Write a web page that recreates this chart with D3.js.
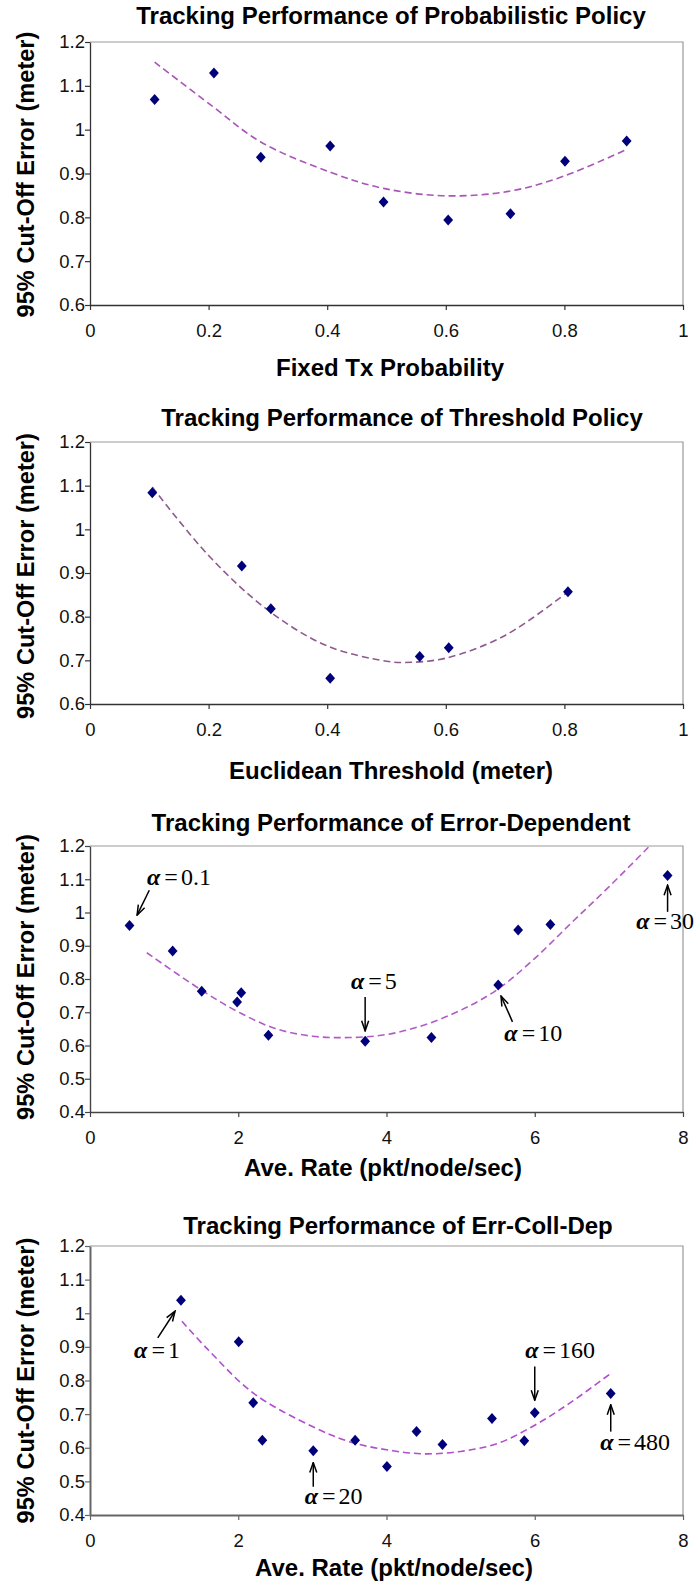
<!DOCTYPE html>
<html>
<head>
<meta charset="utf-8">
<script src="https://cdn.jsdelivr.net/npm/d3@7"></script>
<style>
  body { margin: 0; background: #fff; }
  svg { display: block; }
</style>
</head>
<body>
<svg id="chart"></svg>
<script>
const svgWidth = 696;
const svgHeight = 1585;
const plotLeft = 90, plotRight = 683;

// ---- data ----
const yLabel = "95% Cut-Off Error (meter)";

// Probabilistic policy
const probTitle = "Tracking Performance of Probabilistic Policy";
const probXLabel = "Fixed Tx Probability";
const probX = [0.109, 0.209, 0.288, 0.405, 0.495, 0.604, 0.709, 0.801, 0.905];
const probY = [1.069, 1.129, 0.937, 0.963, 0.835, 0.794, 0.808, 0.928, 0.974];
const probTrendX = [0.109, 0.205, 0.288, 0.405, 0.495, 0.604, 0.709, 0.801, 0.905];
const probTrendY = [1.154, 1.055, 0.972, 0.903, 0.866, 0.849, 0.860, 0.895, 0.955];

// Threshold policy
const threshTitle = "Tracking Performance of Threshold Policy";
const threshXLabel = "Euclidean Threshold (meter)";
const threshX = [0.105, 0.256, 0.305, 0.405, 0.556, 0.605, 0.806];
const threshY = [1.084, 0.916, 0.818, 0.659, 0.709, 0.729, 0.857];
const threshTrendX = [0.105, 0.2, 0.3, 0.4, 0.5, 0.53, 0.6, 0.7, 0.806];
const threshTrendY = [1.097, 0.94, 0.815, 0.733, 0.698, 0.695, 0.705, 0.757, 0.857];

// Error-dependent
const errTitle = "Tracking Performance of Error-Dependent";
const rateXLabel = "Ave. Rate (pkt/node/sec)";
const errX = [0.533, 1.115, 1.507, 1.985, 2.040, 2.407, 3.712, 4.606, 5.507, 5.776, 6.211, 7.792];
const errY = [0.961, 0.884, 0.763, 0.731, 0.759, 0.631, 0.613, 0.624, 0.782, 0.947, 0.964, 1.111];
const errTrendX = [0.766, 1.5, 2, 2.5, 3, 3.5, 4, 4.5, 5, 5.5, 6, 6.5, 7, 7.55];
const errTrendY = [0.879, 0.767, 0.701, 0.651, 0.628, 0.624, 0.633, 0.661, 0.706, 0.769, 0.862, 0.97, 1.077, 1.2];
const errAlphas = ["0.1", "5", "10", "30"];

// Err-Coll-Dep
const collTitle = "Tracking Performance of Err-Coll-Dep";
const collX = [1.227, 2.006, 2.202, 2.325, 3.012, 3.577, 4.006, 4.405, 4.755, 5.423, 5.859, 6.0, 7.025];
const collY = [1.039, 0.915, 0.734, 0.622, 0.591, 0.622, 0.544, 0.648, 0.610, 0.687, 0.621, 0.704, 0.761];
const collTrendX = [1.24, 1.6, 2.2, 3, 3.5, 4, 4.5, 5, 5.5, 6, 6.5, 7.03];
const collTrendY = [0.976, 0.89, 0.763, 0.663, 0.618, 0.594, 0.582, 0.589, 0.613, 0.667, 0.737, 0.822];
const collAlphas = ["1", "20", "160", "480"];

// tick values
const probTicks = [0, 0.2, 0.4, 0.6, 0.8, 1];
const rateTicks = [0, 2, 4, 6, 8];
const errTicksHigh = [0.6, 0.7, 0.8, 0.9, 1, 1.1, 1.2];
const errTicksWide = [0.4, 0.5, 0.6, 0.7, 0.8, 0.9, 1, 1.1, 1.2];

// annotation placement (data units): text start, arrow tail -> head
const errNotePos = [
  { tx: 0.77, ty: 1.082, x1: 0.80, y1: 1.067, x2: 0.635, y2: 0.992 },
  { tx: 3.52, ty: 0.771, x1: 3.712, y1: 0.746, x2: 3.712, y2: 0.644 },
  { tx: 5.59, ty: 0.614, x1: 5.70, y1: 0.671, x2: 5.545, y2: 0.749 },
  { tx: 7.47, ty: 0.949, x1: 7.792, y1: 1.002, x2: 7.792, y2: 1.082 }
];
const collNotePos = [
  { tx: 0.595, ty: 0.867, x1: 0.914, y1: 0.927, x2: 1.147, y2: 1.006 },
  { tx: 2.896, ty: 0.433, x1: 3.012, y1: 0.484, x2: 3.012, y2: 0.556 },
  { tx: 5.871, ty: 0.867, x1: 6.0, y1: 0.842, x2: 6.0, y2: 0.741 },
  { tx: 6.883, ty: 0.592, x1: 7.025, y1: 0.648, x2: 7.025, y2: 0.728 }
];

const svg = d3.select("#chart")
    .attr("width", svgWidth)
    .attr("height", svgHeight);

const defs = svg.append("defs");
defs.append("marker")
    .attr("id", "arrowHead")
    .attr("viewBox", "0 0 12 10")
    .attr("refX", 11)
    .attr("refY", 5)
    .attr("markerWidth", 12)
    .attr("markerHeight", 10)
    .attr("markerUnits", "userSpaceOnUse")
    .attr("orient", "auto")
  .append("path")
    .attr("d", "M1,1.5L11,5L1,8.5")
    .attr("fill", "none")
    .attr("stroke", "#000")
    .attr("stroke-width", 1.5);

// diamond marker, a bit taller than wide
const diamond = {
  draw(context) {
    context.moveTo(0, -5.5);
    context.lineTo(4.9, 0);
    context.lineTo(0, 5.5);
    context.lineTo(-4.9, 0);
    context.closePath();
  }
};

const boldFont = "'Liberation Sans', Arial, sans-serif";
const fmt = d => String(+d.toFixed(1));

function drawPanel(p) {
  const x = d3.scaleLinear().domain(p.xDomain).range([plotLeft, plotRight]);
  const y = d3.scaleLinear().domain(p.yDomain).range([p.bottom, p.top]);
  const g = svg.append("g");

  // plot frame (top / right)
  g.append("path")
      .attr("d", `M${plotLeft},${p.top}H${plotRight}V${p.bottom}`)
      .attr("fill", "none")
      .attr("stroke", "#999")
      .attr("stroke-width", 1.2);

  // axes
  const xAxis = g.append("g")
      .attr("transform", `translate(0,${p.bottom})`)
      .call(d3.axisBottom(x).tickValues(p.xTicks).tickFormat(fmt).tickSize(5).tickSizeOuter(0).tickPadding(14));
  const yAxis = g.append("g")
      .attr("transform", `translate(${plotLeft},0)`)
      .call(d3.axisLeft(y).tickValues(p.yTicks).tickFormat(fmt).tickSize(5).tickSizeOuter(0).tickPadding(0));

  [xAxis, yAxis].forEach(a => {
    a.select(".domain").attr("stroke", p.axisColor).attr("stroke-width", p.axisWidth);
    a.selectAll(".tick line").attr("stroke", p.axisColor).attr("stroke-width", 1.2);
    a.selectAll(".tick text")
        .attr("fill", "#111")
        .style("font-family", "'Liberation Sans', Arial, sans-serif")
        .style("font-size", "18.5px");
  });

  // trend line
  g.append("path")
      .datum(d3.zip(p.trendX, p.trendY))
      .attr("d", d3.line().x(d => x(d[0])).y(d => y(d[1])).curve(d3.curveCatmullRom))
      .attr("fill", "none")
      .attr("stroke", p.trendColor)
      .attr("stroke-width", 1.6)
      .attr("stroke-dasharray", "7,4");

  // points
  g.selectAll(".pt")
      .data(d3.zip(p.xs, p.ys))
      .enter()
      .append("path")
      .attr("class", "pt")
      .attr("transform", d => `translate(${x(d[0])},${y(d[1])})`)
      .attr("d", d3.symbol(diamond))
      .attr("fill", "#00007a");

  // alpha annotations
  if (p.notes) {
    p.notes.forEach((label, i) => {
      const pos = p.notePos[i];
      g.append("line")
          .attr("x1", x(pos.x1)).attr("y1", y(pos.y1))
          .attr("x2", x(pos.x2)).attr("y2", y(pos.y2))
          .attr("stroke", "#000")
          .attr("stroke-width", 1.5)
          .attr("marker-end", "url(#arrowHead)");
      const t = g.append("text")
          .attr("x", x(pos.tx))
          .attr("y", y(pos.ty))
          .style("font-family", "'Liberation Serif', 'Times New Roman', serif")
          .style("font-size", "24px")
          .attr("fill", "#000");
      t.append("tspan").style("font-style", "italic").style("font-weight", "bold").text("α");
      t.append("tspan").attr("dx", 4).text("=");
      t.append("tspan").attr("dx", 3).text(label);
      // keep the label inside the page
      const box = t.node().getBBox();
      if (box.x + box.width > svgWidth - 2) {
        t.attr("x", x(pos.tx) - (box.x + box.width - (svgWidth - 2)));
      }
    });
  }

  // title
  svg.append("text")
      .attr("x", p.titleX)
      .attr("y", p.titleY)
      .attr("text-anchor", "middle")
      .attr("dominant-baseline", "central")
      .style("font-family", boldFont)
      .style("font-weight", "bold")
      .style("font-size", "24px")
      .text(p.title);

  // x label
  svg.append("text")
      .attr("x", p.xLabelX)
      .attr("y", p.xLabelY)
      .attr("text-anchor", "middle")
      .attr("dominant-baseline", "central")
      .style("font-family", boldFont)
      .style("font-weight", "bold")
      .style("font-size", "24px")
      .text(p.xLabel);

  // y label
  svg.append("text")
      .attr("transform", `translate(26,${(p.top + p.bottom) / 2 + p.yLabelShift}) rotate(-90)`)
      .attr("text-anchor", "middle")
      .attr("dominant-baseline", "central")
      .style("font-family", boldFont)
      .style("font-weight", "bold")
      .style("font-size", "23.6px")
      .text(yLabel);
}

drawPanel({
  title: probTitle, xLabel: probXLabel, xs: probX, ys: probY, trendX: probTrendX, trendY: probTrendY,
  xDomain: [0, 1], yDomain: [0.6, 1.2], xTicks: probTicks, yTicks: errTicksHigh,
  top: 42, bottom: 305, titleX: 391, titleY: 15, xLabelX: 390, xLabelY: 367, yLabelShift: 1,
  trendColor: "#a855b5", axisColor: "#333", axisWidth: 1.3
});

drawPanel({
  title: threshTitle, xLabel: threshXLabel, xs: threshX, ys: threshY, trendX: threshTrendX, trendY: threshTrendY,
  xDomain: [0, 1], yDomain: [0.6, 1.2], xTicks: probTicks, yTicks: errTicksHigh,
  top: 442, bottom: 704, titleX: 402, titleY: 417, xLabelX: 391, xLabelY: 770, yLabelShift: 3,
  trendColor: "#8e5a8e", axisColor: "#333", axisWidth: 1.3
});

drawPanel({
  title: errTitle, xLabel: rateXLabel, xs: errX, ys: errY, trendX: errTrendX, trendY: errTrendY,
  xDomain: [0, 8], yDomain: [0.4, 1.2], xTicks: rateTicks, yTicks: errTicksWide,
  top: 846, bottom: 1112, titleX: 391, titleY: 822, xLabelX: 383, xLabelY: 1167, yLabelShift: -2,
  trendColor: "#b35ac6", axisColor: "#444", axisWidth: 1.4,
  notes: errAlphas, notePos: errNotePos
});

drawPanel({
  title: collTitle, xLabel: rateXLabel, xs: collX, ys: collY, trendX: collTrendX, trendY: collTrendY,
  xDomain: [0, 8], yDomain: [0.4, 1.2], xTicks: rateTicks, yTicks: errTicksWide,
  top: 1246, bottom: 1515, titleX: 398, titleY: 1225, xLabelX: 394, xLabelY: 1567, yLabelShift: 0,
  trendColor: "#b24cd0", axisColor: "#666", axisWidth: 2,
  notes: collAlphas, notePos: collNotePos
});
</script>
</body>
</html>
